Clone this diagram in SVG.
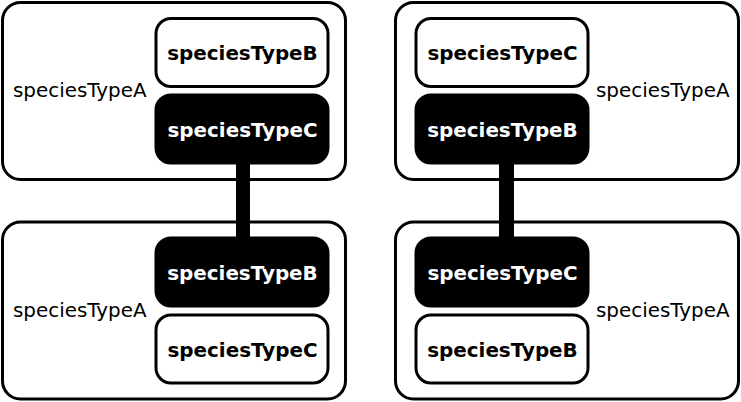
<svg xmlns="http://www.w3.org/2000/svg" width="741" height="402" viewBox="0 0 741 402">
<style>
.outer{fill:#fff;stroke:#000;stroke-width:3}
.w{fill:#fff;stroke:#000;stroke-width:3}
.b{fill:#000;stroke:#000;stroke-width:3}
.lab{font-family:"DejaVu Sans",sans-serif;font-size:19.9px;fill:#000}
.bl{font-family:"DejaVu Sans",sans-serif;font-size:19.9px;font-weight:bold;text-anchor:middle}
.bl.k{fill:#000}
.bl.wt{fill:#fff}
.conn{fill:#000}
</style>
<rect width="741" height="402" fill="#fff"/>
<g id="complexTL">
<rect class="outer" x="2.5" y="2.5" width="343" height="177" rx="18"/>
<text class="lab" x="13" y="97">speciesTypeA</text>
<g id="TL-B"><rect class="w" x="156" y="18.5" width="172" height="68" rx="15"/><text class="bl k" x="242.5" y="59.5">speciesTypeB</text></g>
<g id="TL-C"><rect class="b" x="156" y="95" width="172" height="68" rx="15"/><text class="bl wt" x="242.5" y="136.5">speciesTypeC</text></g>
</g>
<g id="complexBL">
<rect class="outer" x="2.5" y="222" width="343" height="177" rx="18"/>
<text class="lab" x="13" y="317">speciesTypeA</text>
<g id="BL-B"><rect class="b" x="156" y="238" width="172" height="68" rx="15"/><text class="bl wt" x="242.5" y="279.5">speciesTypeB</text></g>
<g id="BL-C"><rect class="w" x="156" y="315" width="172" height="68" rx="15"/><text class="bl k" x="242.5" y="356.5">speciesTypeC</text></g>
</g>
<g id="complexTR">
<rect class="outer" x="395.5" y="2.5" width="343" height="177" rx="18"/>
<text class="lab" x="596" y="97">speciesTypeA</text>
<g id="TR-C"><rect class="w" x="416" y="18.5" width="172" height="68" rx="15"/><text class="bl k" x="502.5" y="59.5">speciesTypeC</text></g>
<g id="TR-B"><rect class="b" x="416" y="95" width="172" height="68" rx="15"/><text class="bl wt" x="502.5" y="136.5">speciesTypeB</text></g>
</g>
<g id="complexBR">
<rect class="outer" x="395.5" y="222" width="343" height="177" rx="18"/>
<text class="lab" x="596" y="317">speciesTypeA</text>
<g id="BR-C"><rect class="b" x="416" y="238" width="172" height="68" rx="15"/><text class="bl wt" x="502.5" y="279.5">speciesTypeC</text></g>
<g id="BR-B"><rect class="w" x="416" y="315" width="172" height="68" rx="15"/><text class="bl k" x="502.5" y="356.5">speciesTypeB</text></g>
</g>
<g id="connectors">
<rect class="conn" x="236" y="152" width="14" height="96"/>
<rect class="conn" x="499" y="152" width="15" height="96"/>
</g>
</svg>
